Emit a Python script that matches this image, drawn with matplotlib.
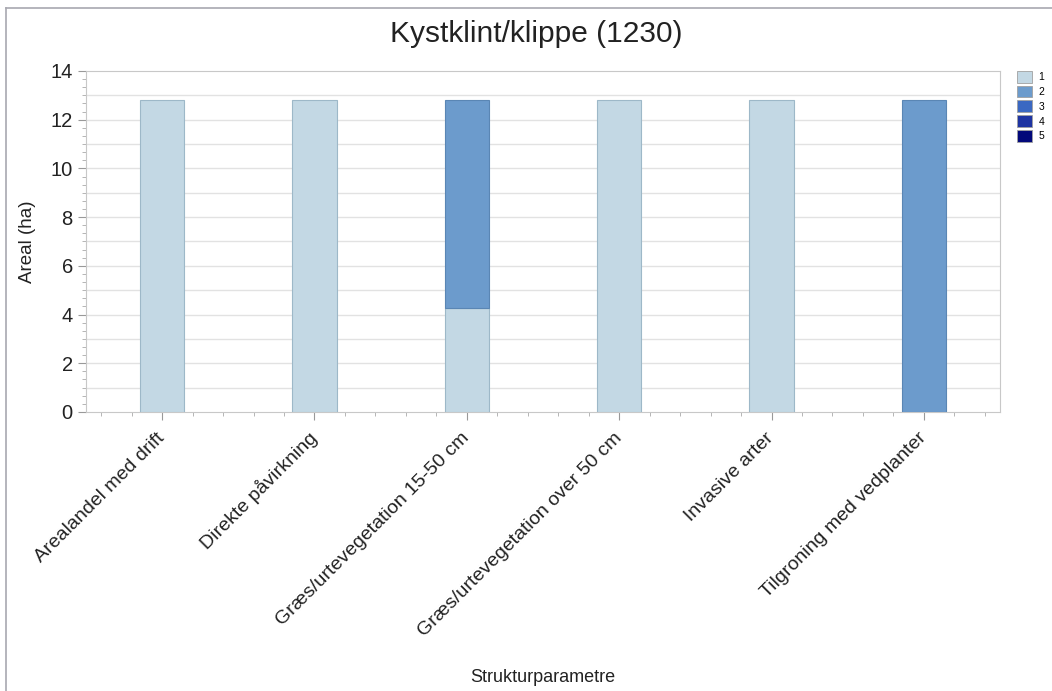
import numpy as np
import matplotlib
matplotlib.use('Agg')
import matplotlib.pyplot as plt
from matplotlib.ticker import MultipleLocator
from matplotlib.patches import Rectangle
from matplotlib.lines import Line2D

plt.rcParams['font.family'] = ['Liberation Sans', 'DejaVu Sans']

# data
categories = ['Arealandel med drift', 'Direkte påvirkning', 'Græs/urtevegetation 15-50 cm',
              'Græs/urtevegetation over 50 cm', 'Invasive arter', 'Tilgroning med vedplanter']
klasse_1 = [12.8, 12.8, 4.25, 12.8, 12.8, 0]
klasse_2 = [0, 0, 8.55, 0, 0, 12.8]
klasse_3 = [0, 0, 0, 0, 0, 0]
klasse_4 = [0, 0, 0, 0, 0, 0]
klasse_5 = [0, 0, 0, 0, 0, 0]
klasse_navne = ['1', '2', '3', '4', '5']

farver = ['#c3d8e4', '#6c9bcc', '#3a68c2', '#1e34a2', '#02087a']
kanter = ['#9db8c8', '#5a86b4', '#3a68c2', '#1e34a2', '#02087a']

fig = plt.figure(figsize=(10.52, 6.91), dpi=100)
ax = fig.add_axes([0.0817, 0.4038, 0.8689, 0.4935])

x = np.arange(len(categories))
bund = np.zeros(len(categories))
for vals, fc, ec, navn in zip([klasse_1, klasse_2, klasse_3, klasse_4, klasse_5], farver, kanter, klasse_navne):
    vals = np.array(vals, dtype=float)
    m = vals > 0
    # tomme segmenter tegnes ikke (ellers kommer der en streg i toppen)
    if m.any():
        ax.bar(x[m], vals[m], width=0.29, bottom=bund[m], color=fc, edgecolor=ec,
               linewidth=0.8, zorder=3)
    bund += vals

ax.set_xlim(-0.5, len(categories) - 0.5)
ax.set_ylim(0, 14)
ax.yaxis.set_major_locator(MultipleLocator(2))
ax.yaxis.set_minor_locator(MultipleLocator(1 / 3))
ax.set_xticks(x)
ax.set_xticks(np.arange(-0.4, 5.5, 0.2), minor=True)
ax.set_xticklabels(categories, rotation=45, ha='right', va='center', rotation_mode='anchor',
                   fontsize=14, color='#222222')
ax.tick_params(axis='y', labelsize=14.5, colors='#222222')
ax.tick_params(axis='both', which='major', length=6, color='#999999')
ax.tick_params(axis='both', which='minor', length=3, color='#aaaaaa')
ax.tick_params(axis='x', which='major', pad=11)

for yv in np.arange(1, 14, 1):
    ax.axhline(yv, color='#e2e2e2', linewidth=1, zorder=0)

for s in ax.spines.values():
    s.set_color('#c8c8c8')

ax.set_ylabel('Areal (ha)', fontsize=13.5, color='#222222', labelpad=10)
fig.text(0.516, 0.019, 'Strukturparametre', fontsize=13, color='#222222', ha='center', va='center')
fig.suptitle('Kystklint/klippe (1230)', fontsize=21.5, color='#222222', x=0.5095, y=0.951, va='center')

# legend at the right
handles = [Rectangle((0, 0), 1, 1, facecolor=fc, edgecolor='#a0a0a0', linewidth=0.6) for fc in farver]
fig.legend(handles, klasse_navne, loc='upper left', bbox_to_anchor=(0.9615, 0.905),
           frameon=False, fontsize=7.5, handlelength=1.5, handleheight=1.35,
           handletextpad=0.6, labelspacing=0.3, borderpad=0)

# outer frame (top and left only visible)
fig.add_artist(Line2D([0.0057, 0.0057], [0, 0.988], transform=fig.transFigure, color='#a8a8b0', linewidth=1.2))
fig.add_artist(Line2D([0.0057, 1], [0.988, 0.988], transform=fig.transFigure, color='#a8a8b0', linewidth=1.2))

fig.savefig('out.png', dpi=100)
